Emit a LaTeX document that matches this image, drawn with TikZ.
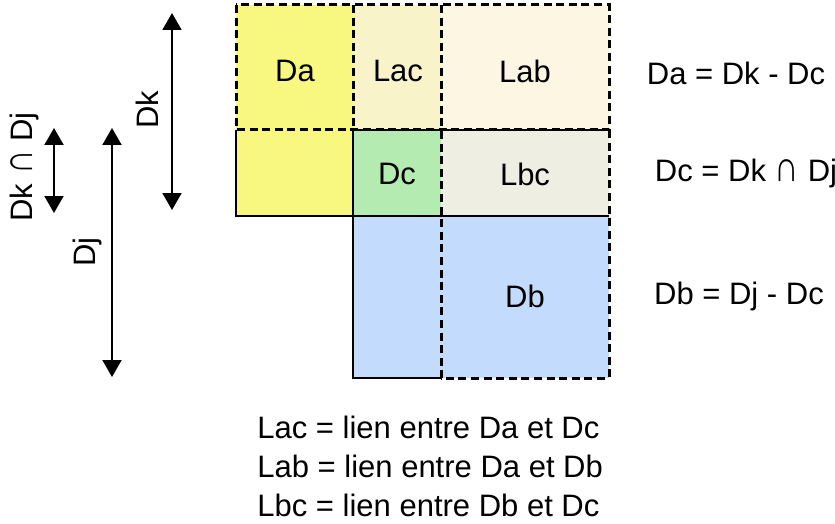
\documentclass[tikz,border=0pt]{standalone}
\usepackage{fontspec}
\setmainfont{Liberation Sans}
\usepackage{graphicx}
\usepackage{tikz}
\usetikzlibrary{arrows.meta}

\definecolor{cDa}{HTML}{F8F77F}
\definecolor{cLac}{HTML}{F8F3C9}
\definecolor{cLab}{HTML}{FCF6E3}
\definecolor{cDc}{HTML}{B3EBB0}
\definecolor{cLbc}{HTML}{EFEEE3}
\definecolor{cDb}{HTML}{C3DBFD}

\newcommand{\inter}{\scalebox{1.1}[1.4]{∩}}

\begin{document}
\begin{tikzpicture}[x = 0.5pt, y = -0.5pt,
                      txt/.style = {font = \fontsize{15.5}{19.5}\selectfont, inner sep = 0pt},
                      edge/.style = {line width = 1.4pt},
                      dashedge/.style = {line width = 1.5pt, dash pattern = on 4pt off 2.3pt},
                      span/.style = {line width = 1pt, {Triangle[width = 9.5pt, length = 8.5pt]}-{Triangle[width = 9.5pt, length = 8.5pt]}}]
    \useasboundingbox (0, 0) rectangle (835, 524);

    % fills of the blocks
    \fill [cDa] (236, 5) rectangle (353, 216);
    \fill [cLac] (353, 5) rectangle (441, 130);
    \fill [cLab] (441, 5) rectangle (609, 130);
    \fill [cDc] (353, 130) rectangle (441, 216);
    \fill [cLbc] (441, 130) rectangle (609, 216);
    \fill [cDb] (353, 216) rectangle (609, 378);

    % solid borders
    \draw [edge] (236, 130) -- (236, 216) -- (353, 216);
    \draw [edge] (353, 130) -- (353, 378) -- (441, 378);
    \draw [edge] (353, 216) -- (609, 216);
    \draw [edge] (353, 130) -- (609, 130);

    % dashed borders
    \draw [dashedge] (236, 5) rectangle (609, 130);
    \draw [dashedge] (353, 5) -- (353, 130);
    \draw [dashedge] (441, 5) -- (441, 378);
    \draw [dashedge] (609, 130) -- (609, 378) -- (441, 378);

    \node [txt] (da) at (295, 71){Da};
    \node [txt] (lac) at (398, 71){Lac};
    \node [txt] (lab) at (525, 71){Lab};
    \node [txt] (dc) at (397, 174){Dc};
    \node [txt] (lbc) at (525, 174){Lbc};
    \node [txt] (db) at (525, 296){Db};

    % arrows on the left
    \coordinate (k1) at (172, 13);
    \coordinate (k2) at (172, 210);
    \coordinate (kj1) at (54, 128);
    \coordinate (kj2) at (54, 213);
    \coordinate (j1) at (112, 128);
    \coordinate (j2) at (112, 377);
    \draw [span] (k1) -- (k2);
    \draw [span] (kj1) -- (kj2);
    \draw [span] (j1) -- (j2);
    \node [txt, rotate = 90] (dk) at (147, 110){Dk};
    \node [txt, rotate = 90] (dkdj) at (24, 167){Dk \inter{} Dj};
    \node [txt, rotate = 90] (dj) at (87, 252){Dj};

    \node [txt] (eqa) at (736, 73){Da = Dk - Dc};
    \node [txt] (eqc) at (746, 173){Dc = Dk \inter{} Dj};
    \node [txt] (eqb) at (739, 296){Db = Dj - Dc};

    \node [txt, align = left, anchor = north west] (legend) at (257, 416)
        {Lac = lien entre Da et Dc\\Lab = lien entre Da et Db\\Lbc = lien entre Db et Dc};
    \end{tikzpicture}
\end{document}
